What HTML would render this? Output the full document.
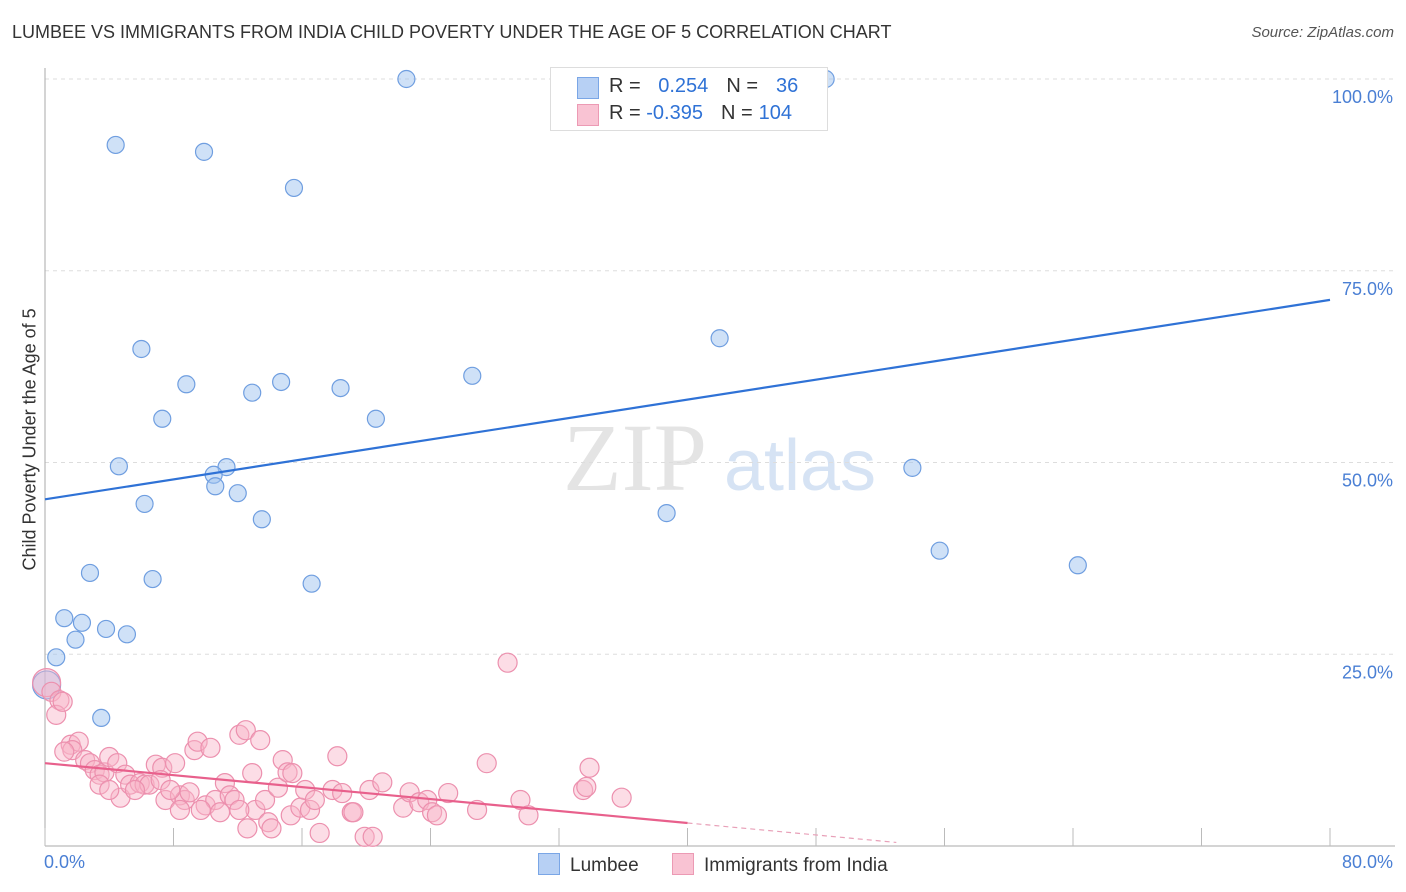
<!DOCTYPE html>
<html><head><meta charset="utf-8">
<style>
body{margin:0;background:#fff;font-family:"Liberation Sans",sans-serif;}
#wrap{position:relative;width:1406px;height:892px;overflow:hidden;}
.t{position:absolute;white-space:nowrap;}
</style></head><body>
<div id="wrap">
<div class="t" style="left:12px;top:22px;font-size:18px;color:#333;">LUMBEE VS IMMIGRANTS FROM INDIA CHILD POVERTY UNDER THE AGE OF 5 CORRELATION CHART</div>
<div class="t" style="right:12px;top:24px;font-size:15px;color:#555;font-style:italic;">Source: ZipAtlas.com</div>
<svg id="svg" width="1406" height="892" style="position:absolute;left:0;top:0"></svg>
</div>
<script>
const xTicks=[0,8,16,24,32,40,48,56,64,72,80];
const yTicks=[25,50,75,100];
const yTickLabels=["25.0%","50.0%","75.0%","100.0%"];
const lumbeeX=[22.5,48.6,4.4,9.9,15.5,6.0,42.0,8.8,14.7,12.9,18.4,26.6,7.3,20.6,4.6,11.3,10.5,10.6,12.0,6.2,13.5,38.7,54.0,55.7,64.3,2.8,6.7,16.6,1.2,2.3,3.8,5.1,1.9,0.7,3.5,0.1];
const lumbeeY=[100,100,91.4,90.5,85.8,64.8,66.2,60.2,60.5,59.1,59.7,61.3,55.7,55.7,49.5,49.4,48.4,46.9,46.0,44.6,42.6,43.4,49.3,38.5,36.6,35.6,34.8,34.2,29.7,29.1,28.3,27.6,26.9,24.6,16.7,21.0];
const indiaX=[0.1,0.4,0.9,0.7,1.1,28.8,1.6,2.1,1.7,1.2,2.5,2.8,3.1,3.4,3.7,4.0,4.5,5.0,4.7,5.3,5.9,6.2,6.5,6.9,7.3,7.2,7.5,8.1,8.4,8.7,9.0,9.3,9.5,10.3,10.0,10.6,10.9,11.2,11.5,11.8,12.1,12.5,12.9,12.6,13.1,13.4,13.7,13.9,14.1,14.5,14.8,15.1,15.4,15.3,15.9,16.2,16.5,16.8,17.1,17.9,18.2,18.5,19.1,19.2,19.9,20.4,20.2,21.0,22.3,22.7,23.3,23.8,24.1,24.4,25.1,26.9,27.5,29.6,30.1,33.5,33.7,33.9,35.9,3.4,4.0,5.6,8.4,12.1,9.7,7.8];
const indiaY=[21.3,20.1,19.0,17.1,18.8,23.9,13.2,13.6,12.5,12.3,11.2,10.8,9.9,9.3,9.6,11.6,10.8,9.3,6.3,8.0,8.2,8.0,8.0,10.6,10.2,8.6,6.0,10.8,6.6,6.0,7.0,12.5,13.6,12.8,5.3,6.0,4.4,8.2,6.6,6.0,14.5,15.1,9.5,2.3,4.7,13.8,6.0,3.1,2.3,7.6,11.2,9.6,9.5,4.0,5.0,7.3,4.7,6.0,1.7,7.3,11.7,6.9,4.4,4.4,1.2,1.2,7.3,8.3,5.0,7.0,5.7,6.0,4.4,4.0,6.9,4.7,10.8,6.0,4.0,7.3,7.7,10.2,6.3,8.0,7.3,7.3,4.7,4.7,4.7,7.3];
const lumbeeTrend=[45.2,71.2];
const indiaTrend=[10.8,3.0];
const X0=45,X1=1330,Y0=846,Y100=79;
const sx=v=>X0+(X1-X0)*v/80, sy=v=>Y0-(Y0-Y100)*v/100;
const svg=document.getElementById('svg'),NS='http://www.w3.org/2000/svg';
function mk(tag,at,name,parent){const e=document.createElementNS(NS,tag);for(const k in at)e.setAttribute(k,at[k]);


(parent||svg).appendChild(e);return e;}
// watermark
const wm1=mk('text',{x:635,y:490,'font-size':96,'font-family':'Liberation Serif,serif',fill:'#e4e4e4','text-anchor':'middle'},'watermark-zip');wm1.textContent='ZIP';
const wm2=mk('text',{x:800,y:490,'font-size':72,'font-family':'Liberation Sans,sans-serif',fill:'#d6e3f4','text-anchor':'middle'},'watermark-atlas');wm2.textContent='atlas';
yTicks.forEach((t,i)=>{mk('line',{x1:X0,x2:1395,y1:sy(t),y2:sy(t),stroke:'#ddd','stroke-dasharray':'4,4'},'gridline');
const l=mk('text',{x:1393,y:sy(t)+24,'font-size':18,fill:'#4a7fd4','text-anchor':'end'},'y-tick-label');l.textContent=yTickLabels[i];});
mk('line',{x1:X0,x2:X0,y1:68,y2:Y0,stroke:'#aaa'},'y-axis');
mk('line',{x1:X0,x2:1395,y1:Y0,y2:Y0,stroke:'#aaa'},'x-axis');
xTicks.forEach(t=>mk('line',{x1:sx(t),x2:sx(t),y1:Y0,y2:Y0-18,stroke:'#bbb'},'x-tick'));
const g1=mk('g',{},'lumbee-points');
lumbeeX.forEach((v,i)=>{const c=mk('circle',{cx:sx(v),cy:sy(lumbeeY[i]),r:i==35?14:8.5,fill:'rgba(160,195,240,0.5)',stroke:'#6f9ee0','stroke-width':1.2},'lumbee-point',g1);});
const g2=mk('g',{},'india-points');
indiaX.forEach((v,i)=>{mk('circle',{cx:sx(v),cy:sy(indiaY[i]),r:i==0?14:9.5,fill:'rgba(248,180,200,0.45)',stroke:'#ec90ae','stroke-width':1.2},'india-point',g2);});
mk('line',{x1:sx(0),y1:sy(lumbeeTrend[0]),x2:sx(80),y2:sy(lumbeeTrend[1]),stroke:'#2f72d6','stroke-width':2.2},'lumbee-trendline');
const slope=(indiaTrend[1]-indiaTrend[0])/40;
mk('line',{x1:sx(0),y1:sy(indiaTrend[0]),x2:sx(40),y2:sy(indiaTrend[1]),stroke:'#e8608c','stroke-width':2.2},'india-trendline');
mk('line',{x1:sx(40),y1:sy(indiaTrend[1]),x2:sx(53),y2:sy(indiaTrend[0]+slope*53),stroke:'#e8a0b8','stroke-width':1.2,'stroke-dasharray':'5,4'},'india-trendline-extension');
</script>
<div class="t" style="left:-85px;top:445px;font-size:18px;color:#333;transform:rotate(-90deg);width:230px;text-align:center;">Child Poverty Under the Age of 5</div>
<div class="t" style="left:44px;top:852px;font-size:18px;color:#4a7fd4;">0.0%</div>
<div class="t" style="right:13px;top:852px;font-size:18px;color:#4a7fd4;">80.0%</div>
<div style="position:absolute;left:550px;top:67px;width:276px;height:62px;border:1px solid #ddd;background:#fff;font-size:20px;color:#333;">
<div style="position:absolute;left:26px;top:9px;width:20px;height:20px;background:#b7d0f4;border:1px solid #7aa6e6;"></div>
<div class="t" style="left:58px;top:7px;">R = <span style="color:#2f72d6;margin-left:12px">0.254</span><span style="margin-left:18px">N =</span><span style="color:#2f72d6;margin-left:18px">36</span></div>
<div style="position:absolute;left:26px;top:36px;width:20px;height:20px;background:#f9c3d3;border:1px solid #ec9ab4;"></div>
<div class="t" style="left:58px;top:34px;">R = <span style="color:#2f72d6">-0.395</span><span style="margin-left:18px">N =</span><span style="color:#2f72d6;margin-left:6px">104</span></div>
</div>
<div style="position:absolute;left:538px;top:853px;font-size:19px;color:#333;">
<span style="display:inline-block;width:20px;height:20px;background:#b7d0f4;border:1px solid #7aa6e6;vertical-align:-4px;margin-right:10px"></span>Lumbee</div>
<div style="position:absolute;left:672px;top:853px;font-size:19px;color:#333;">
<span style="display:inline-block;width:20px;height:20px;background:#f9c3d3;border:1px solid #ec9ab4;vertical-align:-4px;margin-right:10px"></span>Immigrants from India</div>
</body></html>
